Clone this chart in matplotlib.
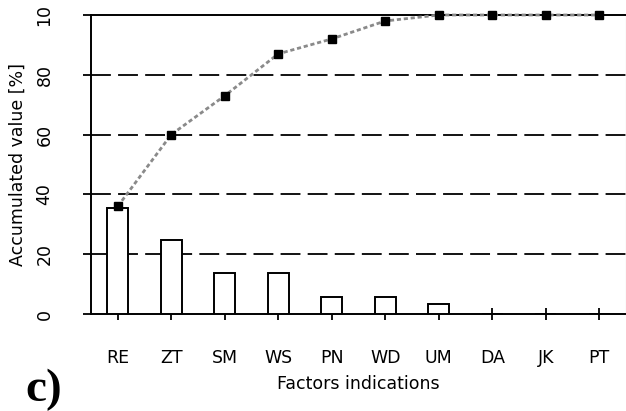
import matplotlib
matplotlib.use("Agg")
import matplotlib.pyplot as plt
from matplotlib.ticker import FixedLocator

categories = ["RE", "ZT", "SM", "WS", "PN", "WD", "UM", "DA", "JK", "PT"]
bar_values = [35.5, 24.7, 13.8, 13.8, 5.8, 5.8, 3.3, 0, 0, 0]
cumulative = [36, 60, 73, 87, 92, 98, 100, 100, 100, 100]
y_ticks = [0, 20, 40, 60, 80, 100]
y_tick_labels = ["0", "20", "40", "60", "80", "10"]

W, H = 626, 411
fig = plt.figure(figsize=(W / 100, H / 100), dpi=100)
ax = fig.add_axes([91 / W, 1 - 314 / H, (626 - 91) / W, (314 - 15) / H])

x = list(range(len(categories)))
ax.bar(x, bar_values, width=0.4, facecolor="white", edgecolor="black",
       linewidth=1.4, zorder=3)
ax.plot(x, cumulative, color="#8a8a8a", linestyle=(0, (1.5, 1)), linewidth=2.0,
        marker="s", markersize=5.5, markerfacecolor="black",
        markeredgecolor="black", zorder=4, clip_on=False)

ax.set_xlim(-0.5, 9.5)
ax.set_ylim(0, 100)
ax.set_xticks(x)
ax.set_xticklabels(categories, fontsize=12.5)
ax.yaxis.set_major_locator(FixedLocator(y_ticks))
ax.set_yticklabels(y_tick_labels, rotation=90, va="center", fontsize=12.5)

for yv in [20, 40, 60, 80]:
    ax.axhline(yv, color="black", linestyle=(0, (11, 4)), linewidth=1.3, zorder=1)

for side in ["left", "bottom", "top"]:
    ax.spines[side].set_linewidth(1.4)
    ax.spines[side].set_color("black")
ax.spines["right"].set_color("#bbbbbb")
ax.spines["right"].set_linewidth(0.8)

ax.tick_params(axis="x", direction="inout", length=8, width=1.3, pad=21)
ax.tick_params(axis="y", direction="out", length=6, width=1.3, pad=21)

ax.set_xlabel("Factors indications", fontsize=12.5, labelpad=6)
ax.set_ylabel("Accumulated value [%]", fontsize=12.5, labelpad=6)

fig.text(25 / W, 1 - 390 / H, "c)", fontsize=34, fontweight="bold",
         family="Liberation Serif", va="center", ha="left")

fig.savefig("out.png", dpi=100)
